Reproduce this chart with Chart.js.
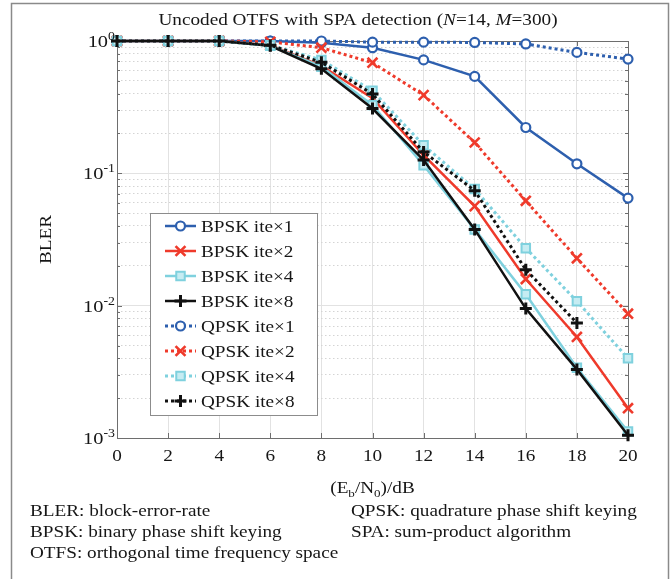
<!DOCTYPE html>
<html>
<head>
<meta charset="utf-8">
<script src="https://cdn.jsdelivr.net/npm/chart.js@4.4.0/dist/chart.umd.min.js"></script>
<style>
  html, body { margin: 0; padding: 0; background: #fff; }
  #wrap { width: 672px; height: 579px; }
</style>
</head>
<body>
<div id="wrap"><canvas id="blerChart"></canvas></div>
<script>
// Eb/N0 in dB (x axis)
const snrDb = [0, 2, 4, 6, 8, 10, 12, 14, 16, 18, 20];

// BLER
const bpskIte1 = [1, 1, 1, 1, 0.97, 0.89, 0.72, 0.54, 0.222, 0.118, 0.065];
const bpskIte2 = [1, 1, 1, 0.93, 0.65, 0.37, 0.137, 0.0565, 0.0159, 0.0058, 0.00168];
const bpskIte4 = [1, 1, 1, 0.92, 0.64, 0.328, 0.115, 0.0377, 0.0122, 0.0034, 0.00112];
const bpskIte8 = [1, 1, 1, 0.92, 0.617, 0.309, 0.126, 0.0377, 0.0095, 0.0033, 0.00105];
const qpskIte1 = [1, 1, 1, 1, 1, 0.98, 0.98, 0.975, 0.95, 0.82, 0.73];
const qpskIte2 = [1, 1, 1, 0.985, 0.89, 0.685, 0.39, 0.171, 0.062, 0.0228, 0.0087];
const qpskIte4 = [1, 1, 1, 0.93, 0.72, 0.42, 0.163, 0.076, 0.0272, 0.0108, 0.0040];
const qpskIte8 = [1, 1, 1, 0.93, 0.69, 0.397, 0.145, 0.074, 0.0187, 0.0074, null];

const seriesNames = ['BPSK ite×1', 'BPSK ite×2', 'BPSK ite×4', 'BPSK ite×8',
                     'QPSK ite×1', 'QPSK ite×2', 'QPSK ite×4', 'QPSK ite×8'];

const xTickLabels = ['0', '2', '4', '6', '8', '10', '12', '14', '16', '18', '20'];
const yTickValues = [1, 0.1, 0.01, 0.001];
const yTickExps = ['0', '-1', '-2', '-3'];

const footLeft = ['BLER: block-error-rate', 'BPSK: binary phase shift keying', 'OTFS: orthogonal time frequency space'];
const footRight = ['QPSK: quadrature phase shift keying', 'SPA: sum-product algorithm'];

const BLUE = '#2d5fae';
const RED = '#ef3a2b';
const CYAN = '#7fd1de';
const BLACK = '#111111';
const FONT = '"Liberation Serif", "Times New Roman", serif';
const STRETCH = 1.2;

// marker look per series
const markers = {
  circle:   { pointStyle: 'circle',   pointRadius: 4.5, pointBorderWidth: 2.2, fill: '#ffffff' },
  crossRot: { pointStyle: 'crossRot', pointRadius: 7,   pointBorderWidth: 2.6, fill: null },
  rect:     { pointStyle: 'rect',     pointRadius: 6,   pointBorderWidth: 2,   fill: '#c6ecf2' },
  cross:    { pointStyle: 'cross',    pointRadius: 6,   pointBorderWidth: 3,   fill: null }
};

function makeSeries(i, data, color, dotted, markerName) {
  const m = markers[markerName];
  return {
    label: seriesNames[i],
    data: data,
    yAxisID: 'y',
    borderColor: color,
    backgroundColor: color,
    borderWidth: dotted ? 3 : 2.5,
    borderDash: dotted ? [3, 3] : [],
    borderCapStyle: 'butt',
    tension: 0,
    spanGaps: false,
    pointStyle: m.pointStyle,
    pointRadius: m.pointRadius,
    pointBorderWidth: m.pointBorderWidth,
    pointBorderColor: color,
    pointBackgroundColor: m.fill || color,
    clip: false,
    order: 8 - i,
    markerName: markerName
  };
}

const datasets = [
  makeSeries(0, bpskIte1, BLUE, false, 'circle'),
  makeSeries(1, bpskIte2, RED, false, 'crossRot'),
  makeSeries(2, bpskIte4, CYAN, false, 'rect'),
  makeSeries(3, bpskIte8, BLACK, false, 'cross'),
  makeSeries(4, qpskIte1, BLUE, true, 'circle'),
  makeSeries(5, qpskIte2, RED, true, 'crossRot'),
  makeSeries(6, qpskIte4, CYAN, true, 'rect'),
  makeSeries(7, qpskIte8, BLACK, true, 'cross')
];

function mantissa(v) {
  const e = Math.floor(Math.log10(v) + 1e-9);
  return v / Math.pow(10, e);
}

// draw a run of text parts (italic / sub / sup), stretched horizontally
function textRun(ctx, parts, x, y, size, align, color) {
  const fontFor = p => (p.i ? 'italic ' : '') + ((p.sub || p.sup) ? size * 0.68 : size) + 'px ' + FONT;
  ctx.save();
  ctx.translate(x, y);
  ctx.scale(STRETCH, 1);
  ctx.fillStyle = color || '#161616';
  ctx.textBaseline = 'alphabetic';
  ctx.textAlign = 'left';
  const widths = parts.map(p => { ctx.font = fontFor(p); return ctx.measureText(p.t).width; });
  const total = widths.reduce((a, b) => a + b, 0);
  let cx = align === 'center' ? -total / 2 : align === 'right' ? -total : 0;
  parts.forEach((p, k) => {
    ctx.font = fontFor(p);
    const dy = p.sub ? size * 0.22 : p.sup ? -size * 0.42 : 0;
    ctx.fillText(p.t, cx, dy);
    cx += widths[k];
  });
  ctx.restore();
}

function drawMarker(ctx, name, x, y) {
  const m = markers[name];
  const r = m.pointRadius;
  ctx.beginPath();
  if (name === 'circle') {
    ctx.arc(x, y, r, 0, Math.PI * 2);
  } else if (name === 'rect') {
    const s = r * Math.SQRT1_2;
    ctx.rect(x - s, y - s, 2 * s, 2 * s);
  } else if (name === 'cross') {
    ctx.moveTo(x - r, y); ctx.lineTo(x + r, y);
    ctx.moveTo(x, y - r); ctx.lineTo(x, y + r);
  } else {
    const s = r * Math.SQRT1_2;
    ctx.moveTo(x - s, y - s); ctx.lineTo(x + s, y + s);
    ctx.moveTo(x - s, y + s); ctx.lineTo(x + s, y - s);
  }
  if (m.fill) { ctx.fillStyle = m.fill; ctx.fill(); }
  ctx.stroke();
}

const figurePlugin = {
  id: 'figure',
  beforeDraw(chart) {
    const ctx = chart.ctx;
    ctx.save();
    ctx.fillStyle = '#ffffff';
    ctx.fillRect(0, 0, chart.width, chart.height);
    // outer frame of the figure
    ctx.strokeStyle = '#8a8a8a';
    ctx.lineWidth = 1.5;
    ctx.strokeRect(11.5, 3.5, 657, 590);
    ctx.restore();
  },
  beforeDatasetsDraw(chart) {
    const ctx = chart.ctx;
    const a = chart.chartArea;
    const xs = chart.scales.x, ys = chart.scales.y;
    ctx.save();
    ctx.strokeStyle = '#6e6e6e';
    ctx.lineWidth = 1;
    // inner tick marks
    ctx.beginPath();
    snrDb.forEach(v => {
      const px = Math.round(xs.getPixelForValue(v)) + 0.5;
      ctx.moveTo(px, a.bottom); ctx.lineTo(px, a.bottom - 5);
      ctx.moveTo(px, a.top); ctx.lineTo(px, a.top + 5);
    });
    ys.ticks.forEach(t => {
      const m = mantissa(t.value);
      const isInt = Math.abs(m - Math.round(m)) < 1e-6;
      if (!isInt) return;
      const len = Math.round(m) === 1 ? 5 : 3;
      const py = Math.round(ys.getPixelForValue(t.value)) + 0.5;
      ctx.moveTo(a.left, py); ctx.lineTo(a.left + len, py);
      ctx.moveTo(a.right, py); ctx.lineTo(a.right - len, py);
    });
    ctx.stroke();
    // axes box
    ctx.strokeRect(Math.round(a.left) + 0.5, Math.round(a.top) + 0.5,
                   Math.round(a.right - a.left), Math.round(a.bottom - a.top));
    ctx.restore();
  },
  afterDraw(chart) {
    const ctx = chart.ctx;
    const a = chart.chartArea;
    const xs = chart.scales.x, ys = chart.scales.y;
    const midX = (a.left + a.right) / 2;

    // title
    textRun(ctx, [{ t: 'Uncoded OTFS with SPA detection (' }, { t: 'N', i: true }, { t: '=14, ' },
                  { t: 'M', i: true }, { t: '=300)' }], 358, 25, 16, 'center');

    // x tick labels
    snrDb.forEach((v, k) => {
      textRun(ctx, [{ t: xTickLabels[k] }], xs.getPixelForValue(v), 461, 16, 'center');
    });
    // y tick labels
    yTickValues.forEach((v, k) => {
      textRun(ctx, [{ t: '10' }, { t: yTickExps[k], sup: true }], a.left - 2, ys.getPixelForValue(v) + 6, 17, 'right');
    });

    // axis titles
    textRun(ctx, [{ t: '(E' }, { t: 'b', sub: true }, { t: '/N' }, { t: '0', sub: true }, { t: ')/dB' }],
            midX, 493, 16, 'center');
    ctx.save();
    ctx.translate(51, (a.top + a.bottom) / 2);
    ctx.rotate(-Math.PI / 2);
    textRun(ctx, [{ t: 'BLER' }], 0, 0, 16, 'center');
    ctx.restore();

    // footnotes
    footLeft.forEach((s, k) => textRun(ctx, [{ t: s }], 30, 516 + k * 21, 16, 'left'));
    footRight.forEach((s, k) => textRun(ctx, [{ t: s }], 351, 516 + k * 21, 16, 'left'));

    // legend
    ctx.save();
    ctx.fillStyle = '#ffffff';
    ctx.fillRect(150, 213, 167, 202);
    ctx.strokeStyle = '#8c8c8c';
    ctx.lineWidth = 1;
    ctx.strokeRect(150.5, 213.5, 167, 202);
    chart.data.datasets.forEach((ds, i) => {
      const cy = 226 + i * 25;
      ctx.strokeStyle = ds.borderColor;
      ctx.lineWidth = ds.borderWidth;
      ctx.setLineDash(ds.borderDash);
      ctx.beginPath();
      ctx.moveTo(165, cy); ctx.lineTo(196, cy);
      ctx.stroke();
      ctx.setLineDash([]);
      ctx.lineWidth = ds.pointBorderWidth;
      drawMarker(ctx, ds.markerName, 180.5, cy);
      textRun(ctx, [{ t: ds.label }], 201, cy + 5.5, 16, 'left');
    });
    ctx.restore();
  }
};

const ctx = document.getElementById('blerChart').getContext('2d');
new Chart(ctx, {
  type: 'line',
  data: { labels: snrDb, datasets: datasets.map(d => ({ ...d, data: d.data.map((v, k) => ({ x: snrDb[k], y: v })) })) },
  options: {
    responsive: true,
    maintainAspectRatio: false,
    animation: false,
    devicePixelRatio: 1,
    layout: { padding: { left: 117, right: 44, top: 41, bottom: 141 } },
    plugins: { legend: { display: false }, tooltip: { enabled: false }, title: { display: false } },
    scales: {
      x: {
        type: 'linear', min: 0, max: 20,
        ticks: { display: false, stepSize: 2 },
        grid: { color: '#e2e2e2', lineWidth: 1, drawTicks: false },
        border: { display: false }
      },
      y: {
        type: 'logarithmic', min: 0.001, max: 1, position: 'left',
        ticks: { display: false, autoSkip: false },
        grid: {
          drawTicks: false, lineWidth: 1,
          color: c => (c.tick && Math.abs(mantissa(c.tick.value) - 1) < 1e-6) ? '#e2e2e2' : 'rgba(0,0,0,0)'
        },
        border: { display: false }
      },
      yMinor: {
        type: 'logarithmic', min: 0.001, max: 1, position: 'left',
        ticks: { display: false, autoSkip: false },
        grid: {
          drawTicks: false, lineWidth: 1,
          color: c => {
            if (!c.tick) return 'rgba(0,0,0,0)';
            const m = mantissa(c.tick.value);
            const isInt = Math.abs(m - Math.round(m)) < 1e-6;
            return (isInt && Math.round(m) > 1) ? '#d4d4d4' : 'rgba(0,0,0,0)';
          }
        },
        border: { display: false, dash: [1.5, 2.5] }
      }
    }
  },
  plugins: [figurePlugin]
});
</script>
</body>
</html>
